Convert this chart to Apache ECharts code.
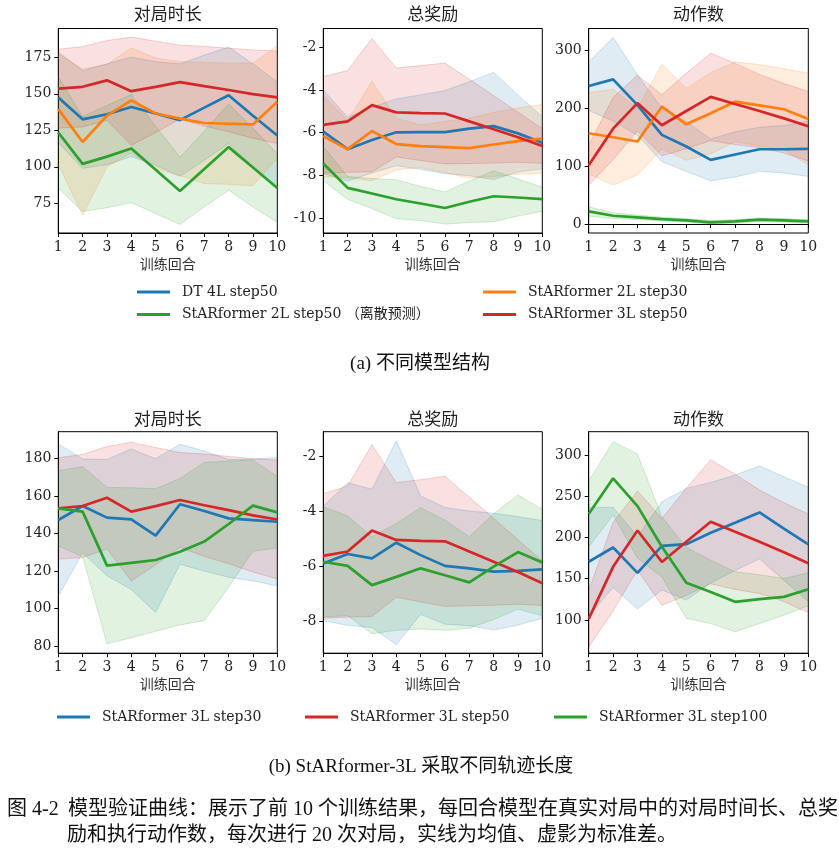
<!DOCTYPE html>
<html><head><meta charset="utf-8">
<script src="https://cdn.jsdelivr.net/npm/echarts@6/dist/echarts.min.js"></script>
<style>html,body{margin:0;padding:0;background:#fff}#c{width:839px;height:856px}</style>
</head><body><div id="c"></div>
<script>
// ---------------- data ----------------
const rounds = [1,2,3,4,5,6,7,8,9,10];
const panelTitles = ['对局时长','总奖励','动作数'];
const xAxisName = '训练回合';

const yTicksA = [[75,100,125,150,175],[-10,-8,-6,-4,-2],[0,100,200,300]];
const yTicksB = [[80,100,120,140,160,180],[-8,-6,-4,-2],[100,150,200,250,300]];

const namesA = ['DT 4L step50','StARformer 2L step30','StARformer 2L step50 （离散预测）','StARformer 3L step50'];
const namesB = ['StARformer 3L step30','StARformer 3L step50','StARformer 3L step100'];

// (a) 对局时长
const durDT4L_mean = [147.5,132.5,136,141,136.5,132,140.5,149,135,121.5];
const durDT4L_std  = [31,33.5,34.5,34,35.5,38.5,36,33,35.5,36.5];
const dur2L30_mean = [139.5,117,135,145.5,136.5,133,130,129.5,129,144.5];
const dur2L30_std  = [38,50,35,36,38,39,41.5,41.5,42,38.5];
const dur2L50_mean = [123.5,102,107,112.5,98,83.5,98.5,113.5,99.5,85.5];
const dur2L50_std  = [38,32.5,35,37,30,23,26,29.5,27,23.5];
const dur3L50_mean = [153.5,154.8,159.2,151.8,154.7,158,155.2,152.6,149.8,147.6];
const dur3L50_std  = [27,27.5,27.3,37,31.3,25.3,27.3,28.6,30.2,31.7];

// (a) 总奖励
const rewDT4L_mean = [-5.95,-6.77,-6.34,-5.98,-5.97,-5.97,-5.81,-5.69,-6.03,-6.47];
const rewDT4L_std  = [1.95,1.49,1.54,1.56,1.74,1.94,2.2,2.5,1.8,1.22];
const rew2L30_mean = [-6.16,-6.77,-5.92,-6.53,-6.63,-6.67,-6.72,-6.55,-6.39,-6.28];
const rew2L30_std  = [1.9,1.33,2.33,1.2,1.0,1.2,1.4,1.5,1.55,1.61];
const rew2L50_mean = [-7.44,-8.58,-8.84,-9.11,-9.31,-9.52,-9.23,-8.97,-9.03,-9.11];
const rew2L50_std  = [0.81,0.53,0.7,0.91,0.8,0.75,0.97,1.19,0.87,0.56];
const rew3L50_mean = [-5.63,-5.47,-4.71,-5.05,-5.08,-5.1,-5.47,-5.84,-6.21,-6.62];
const rew3L50_std  = [2.26,2.38,3.12,2.08,2.22,2.36,1.97,1.58,1.17,0.81];

// (a) 动作数
const actDT4L_mean = [238,249.6,205,153.8,133.7,110.7,120,129,129,129.7];
const actDT4L_std  = [42,72,52,46,43,36,39,38,41,47.7];
const act2L30_mean = [156.6,149.7,142.3,202.5,172,191,211,204.8,198,181.3];
const act2L30_std  = [70,82.6,57.4,73,62,70,69,70,70,79];
const act2L50_mean = [21.8,14.3,11.5,8.6,6.3,2.9,4.6,7.5,6.3,4.6];
const act2L50_std  = [8,5,4,3,3,3,3,3,3,3];
const act3L50_mean = [101.3,164.5,208.6,170.4,195,219.3,207,195,182.3,168.8];
const act3L50_std  = [34.4,53.7,48,52.8,65,75.4,70,63,60,60];

// (b) step30 / step100 (step50 shared with 3L step50 above)
const dur3L30_mean = [147.3,154.8,148.6,147.7,139,155.7,152.1,148.2,147.3,146.4];
const dur3L30_std  = [40.6,25,31,37.5,41,32,32,31.4,32.5,34.2];
const dur3L100_mean = [153.5,151.8,123,124.5,126,130.4,135.8,145.2,155,151.4];
const dur3L100_std  = [20,24,41.7,40,38,39,42.2,33.6,24.3,19];
const rew3L30_mean = [-5.9,-5.56,-5.72,-5.15,-5.6,-5.99,-6.08,-6.2,-6.17,-6.12];
const rew3L30_std  = [2.08,2.59,2.51,3.7,2.15,2.12,2.08,2.12,1.97,1.77];
const rew3L100_mean = [-5.84,-5.99,-6.69,-6.39,-6.08,-6.33,-6.59,-6.02,-5.49,-5.87];
const rew3L100_std  = [2.0,1.81,1.76,1.94,2.2,2.0,1.66,1.92,2.07,1.93];
const act3L30_mean = [170.6,188,157.2,190,192,205.9,218,230.6,211,191.7];
const act3L30_std  = [66,48.7,44,53.6,67.8,61,58,56.4,63,69.3];
const act3L100_mean = [228.6,272,238.3,188.8,145,134,121.9,125.2,128,137.3];
const act3L100_std  = [40,44.6,63.3,36.6,43,38.5,36.5,29.7,22.3,20];

const captionA = '(a) 不同模型结构';
const captionB = '(b) StARformer-3L 采取不同轨迹长度';
const figLabel = '图 4-2';
const figLine1 = '模型验证曲线：展示了前 10 个训练结果，每回合模型在真实对局中的对局时间长、总奖';
const figLine2 = '励和执行动作数，每次进行 20 次对局，实线为均值、虚影为标准差。';

// ---------------- layout / style ----------------
const COL = {blue:[31,119,180], orange:[255,127,14], green:[44,160,44], red:[214,39,40]};
const hex = c => 'rgb(' + COL[c].join(',') + ')';
const rgba = (c,a) => 'rgba(' + COL[c].join(',') + ',' + a + ')';
const SERIF = '"DejaVu Serif", "Noto Sans CJK SC", serif';
const CAP = '"Liberation Serif", "Noto Sans CJK SC", serif';

const lefts = [58.3, 323.3, 588.7];
const widths = [219, 219, 219.6];
const rowTop = [28.5, 431.7];
const rowH = [204.5, 221.5];
const titleTop = [7, 412.5];
const yRangeA = [[54.7,194.7],[-10.69,-1.125],[-15.5,337.3]];
const yRangeB = [[76.3,194.4],[-9.16,-1.12],[59.5,328.7]];

const grids = [], xAxes = [], yAxes = [], titles = [], series = [];
for (let r = 0; r < 2; r++) {
  for (let p = 0; p < 3; p++) {
    const g = r*3 + p;
    grids.push({left: lefts[p], top: rowTop[r], width: widths[p], height: rowH[r],
      show: true, borderColor: '#000', borderWidth: 1, backgroundColor: 'transparent', containLabel: false});
    xAxes.push({type: 'category', gridIndex: g, data: rounds.map(String), boundaryGap: false,
      name: xAxisName, nameLocation: 'middle', nameGap: 25,
      nameTextStyle: {fontFamily: SERIF, fontSize: 14, color: '#333'},
      axisLine: {show: true, lineStyle: {color: '#000', width: 1}},
      axisTick: {show: true, inside: false, length: 4, interval: 0, lineStyle: {color: '#000'}},
      axisLabel: {fontFamily: SERIF, fontSize: 14, color: '#222', margin: 7, interval: 0},
      splitLine: {show: false}});
    const rng = (r === 0 ? yRangeA : yRangeB)[p];
    const ticks = (r === 0 ? yTicksA : yTicksB)[p];
    yAxes.push({type: 'value', gridIndex: g, min: rng[0], max: rng[1],
      axisLine: {show: true, lineStyle: {color: '#000', width: 1}},
      axisTick: {show: true, inside: false, length: 4, customValues: ticks, lineStyle: {color: '#000'}},
      axisLabel: {fontFamily: SERIF, fontSize: 14, color: '#222', margin: 7, customValues: ticks},
      splitLine: {show: false}});
    titles.push({text: panelTitles[p], left: lefts[p] + widths[p]/2, top: titleTop[r], textAlign: 'center', padding: 0,
      textStyle: {fontFamily: SERIF, fontSize: 17, fontWeight: 'normal', color: '#222'}});
  }
}

function addModel(g, name, c, mean, std) {
  const lower = mean.map((m,i) => m - std[i]);
  const span = std.map(s => 2*s);
  const st = 'band' + g + '_' + c;
  series.push({type: 'line', xAxisIndex: g, yAxisIndex: g, data: lower, stack: st, stackStrategy: 'all',
    symbol: 'none', silent: true, z: 1, lineStyle: {color: rgba(c,0.2), width: 1}, itemStyle: {color: rgba(c,0.2)}});
  series.push({type: 'line', xAxisIndex: g, yAxisIndex: g, data: span, stack: st, stackStrategy: 'all',
    symbol: 'none', silent: true, z: 1, lineStyle: {color: rgba(c,0.2), width: 1},
    areaStyle: {color: rgba(c,0.2)}, itemStyle: {color: rgba(c,0.2)}});
  series.push({type: 'line', name: name, xAxisIndex: g, yAxisIndex: g, data: mean,
    symbol: 'none', z: 5, lineStyle: {color: hex(c), width: 2.7}, itemStyle: {color: hex(c)}});
}

// (a)
addModel(0, namesA[0], 'blue', durDT4L_mean, durDT4L_std);
addModel(0, namesA[1], 'orange', dur2L30_mean, dur2L30_std);
addModel(0, namesA[2], 'green', dur2L50_mean, dur2L50_std);
addModel(0, namesA[3], 'red', dur3L50_mean, dur3L50_std);
addModel(1, namesA[0], 'blue', rewDT4L_mean, rewDT4L_std);
addModel(1, namesA[1], 'orange', rew2L30_mean, rew2L30_std);
addModel(1, namesA[2], 'green', rew2L50_mean, rew2L50_std);
addModel(1, namesA[3], 'red', rew3L50_mean, rew3L50_std);
addModel(2, namesA[0], 'blue', actDT4L_mean, actDT4L_std);
addModel(2, namesA[1], 'orange', act2L30_mean, act2L30_std);
addModel(2, namesA[2], 'green', act2L50_mean, act2L50_std);
addModel(2, namesA[3], 'red', act3L50_mean, act3L50_std);
// (b)
addModel(3, namesB[0], 'blue', dur3L30_mean, dur3L30_std);
addModel(3, namesB[1], 'red', dur3L50_mean, dur3L50_std);
addModel(3, namesB[2], 'green', dur3L100_mean, dur3L100_std);
addModel(4, namesB[0], 'blue', rew3L30_mean, rew3L30_std);
addModel(4, namesB[1], 'red', rew3L50_mean, rew3L50_std);
addModel(4, namesB[2], 'green', rew3L100_mean, rew3L100_std);
addModel(5, namesB[0], 'blue', act3L30_mean, act3L30_std);
addModel(5, namesB[1], 'red', act3L50_mean, act3L50_std);
addModel(5, namesB[2], 'green', act3L100_mean, act3L100_std);

const legendBase = {icon: 'rect', itemWidth: 33, itemHeight: 3, padding: 0, selectedMode: false,
  textStyle: {fontFamily: SERIF, fontSize: 14, color: '#222', lineHeight: 17, padding: [0,0,0,7]}};
const legends = [
  Object.assign({}, legendBase, {data: [namesA[0], namesA[2]], orient: 'vertical', left: 137, top: 283.5, itemGap: 5.6}),
  Object.assign({}, legendBase, {data: [namesA[1], namesA[3]], orient: 'vertical', left: 483, top: 283.5, itemGap: 5.6}),
  Object.assign({}, legendBase, {data: [namesB[0]], left: 57, top: 708.5}),
  Object.assign({}, legendBase, {data: [namesB[1]], left: 305, top: 708.5}),
  Object.assign({}, legendBase, {data: [namesB[2]], left: 554, top: 708.5})
];

function txt(s, x, y, size, align) {
  return {type: 'text', x: x, y: y, silent: true,
    style: {text: s, font: size + 'px ' + CAP, fill: '#111', align: align, textAlign: align,
      verticalAlign: 'middle', textVerticalAlign: 'middle'}};
}

const chart = echarts.init(document.getElementById('c'), null, {renderer: 'canvas'});
chart.setOption({
  animation: false,
  backgroundColor: '#fff',
  title: titles,
  grid: grids,
  xAxis: xAxes,
  yAxis: yAxes,
  legend: legends,
  series: series,
  graphic: [
    txt(captionA, 420, 364, 19, 'center'),
    txt(captionB, 421, 767, 19, 'center'),
    txt(figLabel, 7, 810, 20, 'left'),
    txt(figLine1, 68, 810, 20, 'left'),
    txt(figLine2, 67, 836, 20, 'left')
  ]
});
</script></body></html>
